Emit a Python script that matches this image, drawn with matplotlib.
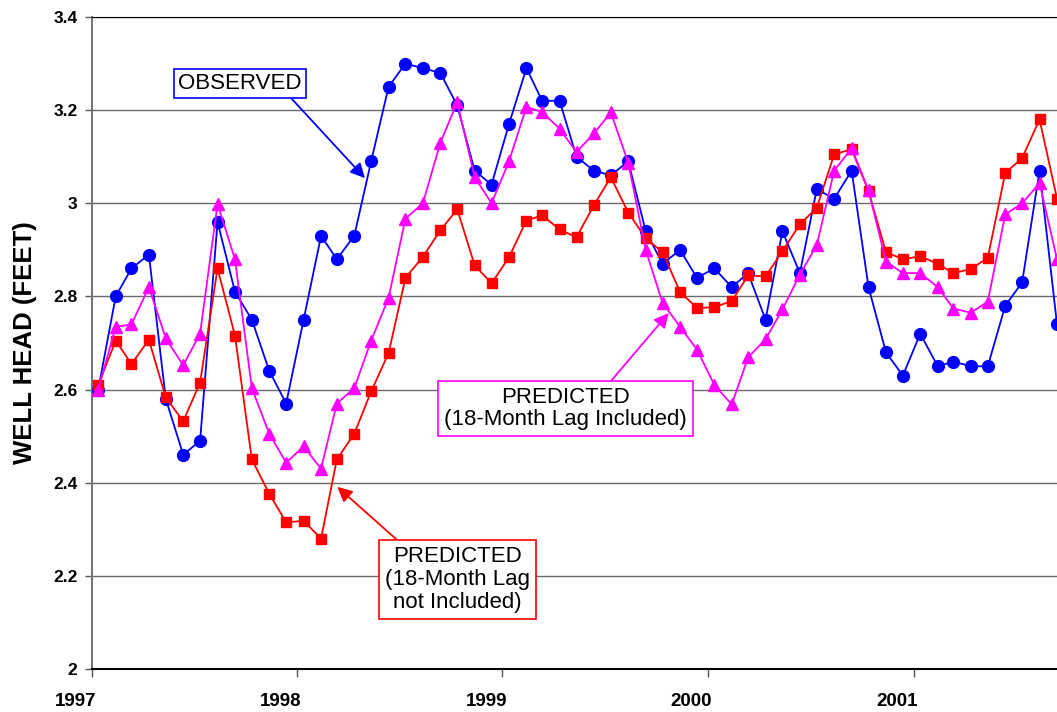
import matplotlib
matplotlib.use("Agg")
import matplotlib.pyplot as plt
import matplotlib.dates as mdates
import matplotlib.transforms as mtransforms
import pandas as pd

plt.rcParams['font.family'] = ['Liberation Sans', 'DejaVu Sans']

# monthly readings, Jan 1997 - Sep 2001
dates = pd.date_range('1997-01-01', periods=57, freq='MS') + pd.Timedelta(days=12)

observed = [2.60, 2.80, 2.86, 2.89, 2.58, 2.46, 2.49, 2.96, 2.81, 2.75, 2.64, 2.57,
            2.75, 2.93, 2.88, 2.93, 3.09, 3.25, 3.30, 3.29, 3.28, 3.21, 3.07, 3.04,
            3.17, 3.29, 3.22, 3.22, 3.10, 3.07, 3.06, 3.09, 2.94, 2.87, 2.90, 2.84,
            2.86, 2.82, 2.85, 2.75, 2.94, 2.85, 3.03, 3.01, 3.07, 2.82, 2.68, 2.63,
            2.72, 2.65, 2.66, 2.65, 2.65, 2.78, 2.83, 3.07, 2.74]

pred_no_lag = [2.61, 2.705, 2.655, 2.707, 2.583, 2.532, 2.615, 2.86, 2.716, 2.45, 2.376, 2.315,
               2.318, 2.28, 2.45, 2.505, 2.596, 2.678, 2.84, 2.885, 2.942, 2.987, 2.867, 2.828,
               2.884, 2.963, 2.974, 2.944, 2.927, 2.996, 3.056, 2.98, 2.925, 2.895, 2.81, 2.775,
               2.777, 2.79, 2.845, 2.843, 2.897, 2.955, 2.99, 3.105, 3.116, 3.026, 2.895, 2.88,
               2.886, 2.87, 2.85, 2.859, 2.883, 3.065, 3.097, 3.18, 3.01]

pred_lag = [2.60, 2.735, 2.74, 2.82, 2.71, 2.652, 2.72, 2.998, 2.88, 2.603, 2.505, 2.443,
            2.478, 2.43, 2.57, 2.603, 2.705, 2.797, 2.967, 3.00, 3.13, 3.217, 3.056, 3.00,
            3.09, 3.207, 3.196, 3.16, 3.11, 3.15, 3.195, 3.087, 2.90, 2.786, 2.735, 2.686,
            2.61, 2.568, 2.669, 2.708, 2.772, 2.847, 2.91, 3.07, 3.118, 3.028, 2.875, 2.85,
            2.85, 2.82, 2.774, 2.765, 2.789, 2.976, 3.00, 3.043, 2.88]

years = [1997, 1998, 1999, 2000, 2001]

fig = plt.figure(figsize=(10.57, 7.12), dpi=100)
ax = fig.add_axes([91.5 / 1057, 43 / 712, 1 - 91.5 / 1057, 652 / 712])

ax.plot(dates, observed, color='#0000FF', lw=1.3, marker='o', ms=8.5, zorder=3)
ax.plot(dates, pred_no_lag, color='#FF0000', lw=1.3, marker='s', ms=7, zorder=4)
ax.plot(dates, pred_lag, color='#FF00FF', lw=1.3, marker='^', ms=8, zorder=5)

ax.set_ylim(2, 3.4)
ax.set_yticks([2, 2.2, 2.4, 2.6, 2.8, 3.0, 3.2, 3.4])
ax.set_yticklabels(['2', '2.2', '2.4', '2.6', '2.8', '3', '3.2', '3.4'])
ax.set_xlim(pd.Timestamp('1997-01-01'), pd.Timestamp('2001-09-13'))
ax.set_xticks([pd.Timestamp(f'{y}-01-01') for y in years])
ax.xaxis.set_major_formatter(mdates.DateFormatter('%Y'))

ax.grid(axis='y', color='#6a6a6a', lw=1.0)
ax.set_axisbelow(True)
ax.spines['right'].set_visible(False)
ax.spines['top'].set_color('black')
ax.spines['left'].set_color('#777777')
ax.spines['left'].set_linewidth(1.5)
ax.spines['bottom'].set_color('black')
ax.spines['bottom'].set_linewidth(1.5)

ax.tick_params(axis='y', direction='out', length=5, width=1, color='#555555', pad=5,
               labelsize=12.5)
ax.tick_params(axis='x', direction='out', length=6, width=1, color='#555555', pad=11,
               labelsize=13.5)
for lab in ax.get_yticklabels() + ax.get_xticklabels():
    lab.set_fontweight('bold')
shift = mtransforms.ScaledTranslation(-16 / 100, 0, fig.dpi_scale_trans)
for lab in ax.get_xticklabels():
    lab.set_transform(lab.get_transform() + shift)

ax.set_ylabel('WELL HEAD (FEET)', fontsize=18.5, fontweight='bold', labelpad=12)

ax.annotate('OBSERVED', xy=(pd.Timestamp('1998-05-02'), 3.054),
            xytext=(pd.Timestamp('1997-09-22'), 3.258), ha='center', va='center',
            fontsize=16, zorder=6,
            bbox=dict(boxstyle='square,pad=0.18', fc='white', ec='#0000FF', lw=1.2),
            arrowprops=dict(arrowstyle='-|>', color='#0000FF', lw=1.3,
                            mutation_scale=22, relpos=(0.88, 0.0), shrinkA=0, shrinkB=0))

ax.annotate('PREDICTED\n(18-Month Lag Included)', xy=(pd.Timestamp('1999-10-24'), 2.7645),
            xytext=(pd.Timestamp('1999-04-23'), 2.559), ha='center', va='center',
            fontsize=16, linespacing=1.1, zorder=6,
            bbox=dict(boxstyle='square,pad=0.27', fc='white', ec='#FF00FF', lw=1.2),
            arrowprops=dict(arrowstyle='-|>', color='#FF00FF', lw=1.3,
                            mutation_scale=22, relpos=(0.668, 1.0), shrinkA=0, shrinkB=0))

ax.annotate('PREDICTED\n(18-Month Lag\nnot Included)', xy=(pd.Timestamp('1998-03-14'), 2.391),
            xytext=(pd.Timestamp('1998-10-14'), 2.193), ha='center', va='center',
            fontsize=16, linespacing=1.12, zorder=6,
            bbox=dict(boxstyle='square,pad=0.27', fc='white', ec='#FF0000', lw=1.2),
            arrowprops=dict(arrowstyle='-|>', color='#FF0000', lw=1.3,
                            mutation_scale=22, relpos=(0.126, 1.0), shrinkA=0, shrinkB=0))

fig.savefig('out.png', dpi=100)
